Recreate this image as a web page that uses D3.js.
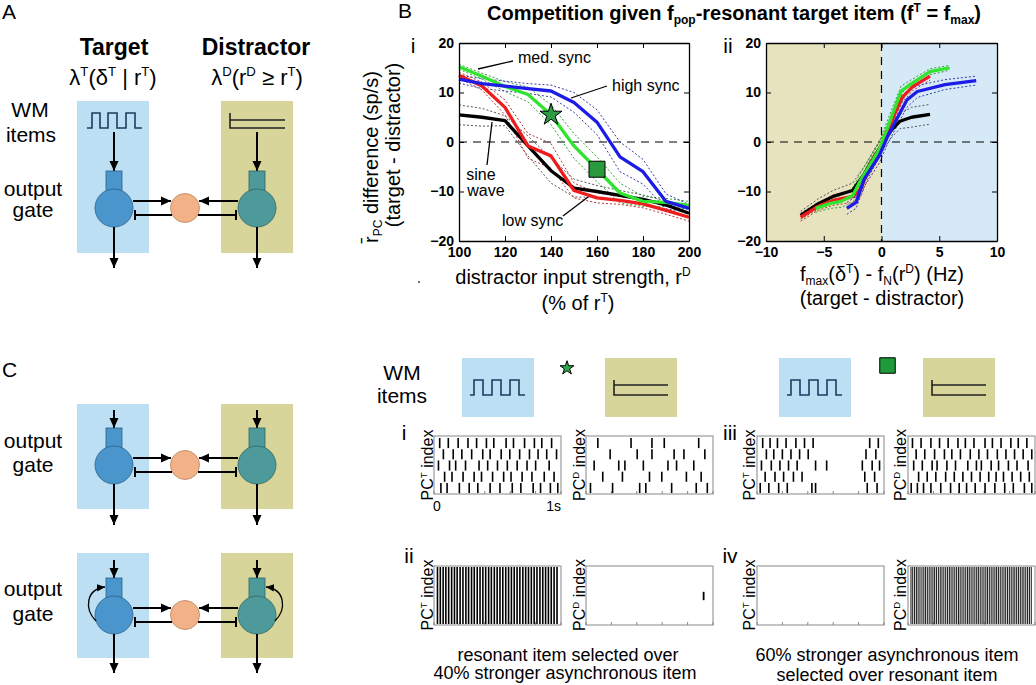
<!DOCTYPE html>
<html><head><meta charset="utf-8">
<script src="https://cdn.jsdelivr.net/npm/d3@7"></script>
<style>body{margin:0;background:#fff} svg{display:block;font-family:"Liberation Sans",Arial,Helvetica,sans-serif}</style>
</head><body><svg id="c" width="1036" height="685"></svg>
<script>
// ---------------- DATA ----------------
const rD = [100,110,120,130,140,150,160,170,180,190,200];
const sineWave = [5.5,5.0,4.3,-0.8,-5.8,-9.3,-10.0,-10.8,-11.6,-12.7,-14.4];
const lowSync  = [13.5,11.3,7.0,-0.8,-2.8,-9.8,-11.3,-11.8,-12.5,-13.8,-15.2];
const medSync  = [15.2,13.3,11.2,9.6,5.5,-0.8,-5.5,-10.3,-12.0,-12.2,-12.8];
const highSync = [12.7,11.8,11.3,10.8,10.3,8.0,4.0,-3.0,-6.0,-12.0,-13.4];
const sineErr = [2.0,1.8,1.0,2.0,2.5,1.8,1.2,1.0,0.9,0.8,0.8];
const lowErr  = [0.6,0.8,1.5,2.5,2.5,1.5,1.0,0.8,0.8,0.8,0.8];
const medErr  = [0.5,0.6,1.0,1.5,2.0,2.5,2.5,2.0,1.0,0.8,0.8];
const highErr = [0.8,1.0,1.0,1.0,1.2,2.0,2.5,3.0,2.5,1.5,0.8];
const starPoint = [140, 5.5];
const squarePoint = [160, -5.5];

const sineFreqDiff = [-7.0,-5.5,-4.2,-2.5,-1.5,-0.5,0.3,0.9,1.6,2.6,4.2];
const sineRateDiff = [-14.8,-12.5,-11.0,-9.8,-6.5,-2.5,0.5,2.5,4.2,5.0,5.6];
const sineErrII    = [0.8,1.0,1.2,1.5,1.5,1.5,1.5,1.5,1.5,2.0,2.0];
const lowFreqDiff  = [-7.0,-5.5,-4.2,-2.5,-1.8,-1.2,-0.3,0.6,1.2,1.8,2.7,4.2];
const lowRateDiff  = [-15.2,-13.0,-11.8,-11.0,-9.5,-6.0,-2.0,2.5,6.0,9.0,11.2,13.3];
const lowErrII     = [0.8,0.8,1.0,1.2,1.5,1.5,1.5,1.5,1.0,1.0,0.8,0.8];
const medFreqDiff  = [-5.7,-4.4,-3.5,-2.5,-1.8,-1.0,-0.2,0.7,1.7,2.6,4.2,5.9];
const medRateDiff  = [-13.4,-12.4,-12.0,-10.8,-7.7,-4.6,-1.5,4.0,10.3,11.8,14.2,15.0];
const medErrII     = [0.8,1.0,1.2,1.5,1.5,1.5,1.5,1.5,1.0,0.8,0.6,0.5];
const highFreqDiff = [-3.0,-2.2,-1.5,-0.2,0.5,1.4,2.2,3.1,5.5,8.2];
const highRateDiff = [-13.4,-12.2,-7.5,-2.8,1.0,5.0,8.5,10.2,11.6,12.4];
const highErrII    = [1.2,1.2,1.5,1.5,1.5,1.5,1.5,1.2,1.0,0.9];

const rateTicks = [-20,-10,0,10,20];
const strengthTicks = [100,120,140,160,180,200];
const freqTicks = [-10,-5,0,5,10];
const timeTicks = [0,0.2,0.4,0.6,0.8,1];

// raster spike times (fraction of 1 s), one list per cell row
const rasterI_T = [
 [0.03,0.10,0.18,0.26,0.33,0.41,0.47,0.57,0.63,0.72,0.80,0.86,0.94],
 [0.06,0.14,0.21,0.29,0.38,0.44,0.53,0.60,0.68,0.76,0.83,0.90,0.98],
 [0.02,0.11,0.16,0.24,0.35,0.42,0.50,0.58,0.66,0.74,0.81,0.92],
 [0.07,0.13,0.22,0.31,0.37,0.46,0.55,0.61,0.70,0.78,0.88,0.96],
 [0.04,0.09,0.19,0.27,0.34,0.44,0.52,0.62,0.69,0.79,0.85,0.93,0.99]];
const rasterI_D = [
 [0.08,0.35,0.52,0.62,0.90],
 [0.18,0.40,0.52,0.70,0.78,0.95],
 [0.05,0.25,0.30,0.45,0.65,0.72,0.86],
 [0.12,0.28,0.50,0.60,0.80,0.92],
 [0.02,0.20,0.42,0.47,0.68,0.88,0.97]];
const rasterIII_T = [
 [0.03,0.09,0.15,0.22,0.30,0.37,0.44,0.90,0.97],
 [0.06,0.12,0.19,0.26,0.33,0.40,0.87,0.95],
 [0.02,0.10,0.17,0.24,0.31,0.46,0.55,0.84,0.92,0.98],
 [0.05,0.13,0.20,0.28,0.35,0.86,0.94],
 [0.01,0.08,0.16,0.23,0.43,0.46,0.88,0.96]];
const rasterIII_D = [
 [0.02,0.09,0.17,0.24,0.31,0.39,0.45,0.52,0.61,0.67,0.74,0.82,0.88,0.95],
 [0.05,0.12,0.20,0.28,0.34,0.41,0.49,0.56,0.63,0.71,0.78,0.85,0.92,0.99],
 [0.03,0.10,0.18,0.22,0.30,0.37,0.47,0.54,0.58,0.66,0.72,0.80,0.87,0.96],
 [0.07,0.14,0.21,0.29,0.36,0.43,0.50,0.57,0.64,0.70,0.76,0.83,0.90,0.97],
 [0.01,0.06,0.11,0.17,0.25,0.33,0.40,0.46,0.53,0.61,0.69,0.77,0.84,0.93,0.99]];
const rasterII_T = [0.012,0.035,0.058,0.080,0.103,0.127,0.150,0.172,0.196,0.219,0.243,0.265,0.289,0.311,0.335,0.358,0.381,0.404,0.428,0.450,0.474,0.497,0.520,0.543,0.567,0.590,0.613,0.636,0.659,0.682,0.706,0.729,0.752,0.775,0.798,0.821,0.845,0.868,0.891,0.914,0.937,0.960,0.984];
const rasterII_D = [[0.94,2]];
const rasterIV_D = [0.008,0.022,0.037,0.052,0.066,0.081,0.097,0.112,0.126,0.141,0.156,0.171,0.186,0.200,0.215,0.231,0.246,0.260,0.275,0.290,0.305,0.320,0.334,0.349,0.364,0.379,0.394,0.408,0.423,0.438,0.453,0.468,0.482,0.497,0.512,0.527,0.542,0.556,0.571,0.586,0.601,0.616,0.630,0.645,0.660,0.675,0.690,0.704,0.719,0.734,0.749,0.764,0.778,0.793,0.808,0.823,0.838,0.852,0.867,0.882,0.897,0.912,0.926,0.941,0.956,0.971,0.986];

// ---------------- DRAWING ----------------
const svg = d3.select("#c");
svg.append("rect").attr("width",1036).attr("height",685).attr("fill","#fff");
const defs = svg.append("defs");
defs.append("marker").attr("id","ah").attr("viewBox","0 0 10 10").attr("refX",10).attr("refY",5)
  .attr("markerWidth",10).attr("markerHeight",10).attr("markerUnits","userSpaceOnUse").attr("orient","auto")
  .append("path").attr("d","M0,0.5L10,5L0,9.5Z").attr("fill","#000");
defs.append("marker").attr("id","ahs").attr("viewBox","0 0 10 10").attr("refX",10).attr("refY",5)
  .attr("markerWidth",8).attr("markerHeight",8).attr("markerUnits","userSpaceOnUse").attr("orient","auto")
  .append("path").attr("d","M0,0.5L10,5L0,9.5Z").attr("fill","#000");

function rich(parent, x, y, parts, size, opts={}) {
  const t = parent.append("text").attr("x",x).attr("y",y).attr("font-size",size)
    .attr("text-anchor",opts.anchor||"start").attr("font-weight",opts.weight||"normal").attr("fill","#000");
  if (opts.transform) t.attr("transform",opts.transform);
  let cur = 0;
  parts.forEach(p => {
    const [s,type] = Array.isArray(p) ? p : [p,""];
    const target = type==="sup" ? -0.4*size : type==="sub" ? 0.2*size : 0;
    const ts = t.append("tspan").text(s).attr("dy", target-cur);
    if (type) ts.attr("font-size", size*0.6);
    cur = target;
  });
  return t;
}
function txt(x,y,s,size,anchor="middle",weight="normal"){
  return svg.append("text").attr("x",x).attr("y",y).attr("font-size",size).attr("text-anchor",anchor).attr("font-weight",weight).text(s);
}

// ---- circuit diagrams ----
const colBlue="#bddff4", colOlive="#d7d59a";
function pulseIcon(g,x0,x1,yb,h,pulses,color){
  let d=`M${x0},${yb}`;
  pulses.forEach(([a,b])=>{ d+=`L${a},${yb}L${a},${yb-h}L${b},${yb-h}L${b},${yb}`; });
  d+=`L${x1},${yb}`;
  g.append("path").attr("d",d).attr("fill","none").attr("stroke",color).attr("stroke-width",1.6);
}
function constIcon(g,x0,x1,y1,y2,yTop,color){
  g.append("path").attr("d",`M${x0},${yTop}L${x0},${y2}L${x1},${y2}M${x0},${y1}L${x1},${y1}`)
   .attr("fill","none").attr("stroke",color).attr("stroke-width",1.6);
}
function circuit(rectTop, rectBot, somaY, inTop, outBot, recurrent){
  const g = svg.append("g");
  g.append("rect").attr("x",77).attr("y",rectTop).attr("width",72).attr("height",rectBot-rectTop).attr("fill",colBlue);
  g.append("rect").attr("x",221).attr("y",rectTop).attr("width",72).attr("height",rectBot-rectTop).attr("fill",colOlive);
  const cols = [{x:114,fill:"#4a95cb",stroke:"#2c5f88",side:-1},{x:257,fill:"#4e9a9b",stroke:"#2d6465",side:1}];
  cols.forEach(c=>{
    g.append("line").attr("x1",c.x).attr("x2",c.x).attr("y1",inTop).attr("y2",somaY-37)
      .attr("stroke","#000").attr("stroke-width",2).attr("marker-end","url(#ah)");
    g.append("rect").attr("x",c.x-8).attr("y",somaY-37).attr("width",16).attr("height",20)
      .attr("fill",c.fill).attr("stroke",c.stroke).attr("stroke-width",0.8);
    g.append("circle").attr("cx",c.x).attr("cy",somaY).attr("r",19)
      .attr("fill",c.fill).attr("stroke",c.stroke).attr("stroke-width",0.8);
    g.append("line").attr("x1",c.x).attr("x2",c.x).attr("y1",somaY+19).attr("y2",outBot)
      .attr("stroke","#000").attr("stroke-width",2).attr("marker-end","url(#ah)");
    if (recurrent){
      const s=c.side;
      g.append("path").attr("d",`M${c.x+s*18},${somaY+6} C${c.x+s*30},${somaY-6} ${c.x+s*28},${somaY-26} ${c.x+s*9},${somaY-28}`)
        .attr("fill","none").attr("stroke","#000").attr("stroke-width",1.3).attr("marker-end","url(#ahs)");
    }
  });
  g.append("circle").attr("cx",185).attr("cy",somaY).attr("r",14.5).attr("fill","#f2b186").attr("stroke","#b9835d").attr("stroke-width",0.8);
  g.append("line").attr("x1",133).attr("x2",171).attr("y1",somaY-7).attr("y2",somaY-7).attr("stroke","#000").attr("stroke-width",2).attr("marker-end","url(#ah)");
  g.append("line").attr("x1",238).attr("x2",199).attr("y1",somaY-7).attr("y2",somaY-7).attr("stroke","#000").attr("stroke-width",2).attr("marker-end","url(#ah)");
  g.append("line").attr("x1",172).attr("x2",135).attr("y1",somaY+7).attr("y2",somaY+7).attr("stroke","#000").attr("stroke-width",2);
  g.append("line").attr("x1",135).attr("x2",135).attr("y1",somaY+2).attr("y2",somaY+12).attr("stroke","#000").attr("stroke-width",2);
  g.append("line").attr("x1",198).attr("x2",236).attr("y1",somaY+7).attr("y2",somaY+7).attr("stroke","#000").attr("stroke-width",2);
  g.append("line").attr("x1",236).attr("x2",236).attr("y1",somaY+2).attr("y2",somaY+12).attr("stroke","#000").attr("stroke-width",2);
  return g;
}

// Panel A
txt(2,19,"A",21,"start");
txt(114,55,"Target",23,"middle","bold");
txt(256,55,"Distractor",23,"middle","bold");
rich(svg,113,85,["λ",["T","sup"],"(δ",["T","sup"]," | r",["T","sup"],")"],22,{anchor:"middle"});
rich(svg,257,85,["λ",["D","sup"],"(r",["D","sup"]," ≥ r",["T","sup"],")"],22,{anchor:"middle"});
txt(30,117,"WM",21); txt(31,142,"items",21);
txt(33,196,"output",21); txt(33,217,"gate",21);
const gA = circuit(101,253,208,132,268,false);
pulseIcon(gA,87,142,128,15,[[92,100],[108,117],[126,135]],"#1c3d60");
constIcon(gA,230,285,120,128,113,"#222");

// Panel C diagrams
txt(2,377,"C",21,"start");
txt(33,448,"output",21); txt(33,472,"gate",21);
txt(33,596,"output",21); txt(33,621,"gate",21);
circuit(404,509,465,410,525,false);
circuit(553,658,615,560,673,true);

// ---- Panel B ----
txt(398,18,"B",21,"start");
rich(svg,734,20,["Competition given f",["pop","sub"],"-resonant target item (f",["T","sup"]," = f",["max","sub"],")"],20,{anchor:"middle",weight:"bold"});

function boxAxes(x,y,xt,yt){
  const [x0,x1]=x.range(), [y0,y1]=y.range();
  const style = g=>{ g.selectAll("text").attr("font-size",14).attr("font-weight","bold").attr("fill","#000").attr("font-family","Liberation Sans, Arial, sans-serif");
    g.select(".domain").attr("stroke","#000").attr("stroke-width",1.3); g.selectAll(".tick line").attr("stroke","#000"); };
  svg.append("g").attr("transform",`translate(0,${y0})`).call(d3.axisBottom(x).tickValues(xt).tickSizeInner(-5).tickSizeOuter(0).tickPadding(6)).call(style);
  svg.append("g").attr("transform",`translate(0,${y1})`).call(d3.axisTop(x).tickValues(xt).tickSizeInner(-5).tickSizeOuter(0).tickFormat("")).call(style);
  svg.append("g").attr("transform",`translate(${x0},0)`).call(d3.axisLeft(y).tickValues(yt).tickSizeInner(-5).tickSizeOuter(0).tickPadding(5)).call(style);
  svg.append("g").attr("transform",`translate(${x1},0)`).call(d3.axisRight(y).tickValues(yt).tickSizeInner(-5).tickSizeOuter(0).tickFormat("")).call(style);
}
const seriesStyle = [
  {name:"sine", color:"#000000", dot:"#555555"},
  {name:"low",  color:"#ee1c1c", dot:"#b03a3a"},
  {name:"med",  color:"#2fe32f", dot:"#3a9e3a"},
  {name:"high", color:"#1c1ce6", dot:"#3a3aa6"}];

// B i
const xi = d3.scaleLinear().domain([100,200]).range([459,689]);
const yR = d3.scaleLinear().domain([-20,20]).range([241,43]);
const biSeries = [[sineWave,sineErr],[lowSync,lowErr],[medSync,medErr],[highSync,highErr]];
const gBi = svg.append("g");
gBi.append("line").attr("x1",xi(100)).attr("x2",xi(200)).attr("y1",yR(0)).attr("y2",yR(0)).attr("stroke","#000").attr("stroke-width",1.2).attr("stroke-dasharray","8,6");
const lineI = d3.line().x((d,i)=>xi(rD[i])).y(d=>yR(d));
biSeries.forEach(([vals,err],k)=>{
  [1,-1].forEach(s=>gBi.append("path").attr("d",lineI(vals.map((v,i)=>v+s*err[i]))).attr("fill","none")
    .attr("stroke",seriesStyle[k].dot).attr("stroke-width",1).attr("stroke-dasharray","2,2"));
});
biSeries.forEach(([vals],k)=>{
  gBi.append("path").attr("d",lineI(vals)).attr("fill","none").attr("stroke",seriesStyle[k].color).attr("stroke-width",3.3).attr("stroke-linejoin","round");
});
gBi.append("path").attr("d",d3.symbol(d3.symbolStar,150)()).attr("transform",`translate(${xi(starPoint[0])},${yR(starPoint[1])})`)
  .attr("fill","#2c9c45").attr("stroke","#000").attr("stroke-width",1);
gBi.append("path").attr("d",d3.symbol(d3.symbolSquare,256)()).attr("transform",`translate(${xi(squarePoint[0])},${yR(squarePoint[1])})`)
  .attr("fill","#2a9a3e").attr("stroke","#000").attr("stroke-width",1);
boxAxes(xi,yR,strengthTicks,rateTicks);
txt(413,53,"i",21);
const ann = [[513,61,478,69],[607,86,571,98],[487,165,492,122],[563,216,588,197]];
ann.forEach(a=>svg.append("line").attr("x1",a[0]).attr("y1",a[1]).attr("x2",a[2]).attr("y2",a[3]).attr("stroke","#000").attr("stroke-width",1.3));
txt(518,63,"med. sync",16,"start");
txt(612,91,"high sync",16,"start");
txt(481,180,"sine",16); txt(486,196,"wave",16);
txt(502,226,"low sync",16,"start");
rich(svg,573,284,["distractor input strength, r",["D","sup"]],20,{anchor:"middle"});
rich(svg,578,310,["(% of r",["T","sup"],")"],20,{anchor:"middle"});
svg.append("circle").attr("cx",419).attr("cy",282).attr("r",1).attr("fill","#444");
rich(svg,0,0,["r\u0304",["PC","sub"]," difference (sp/s)"],20,{anchor:"middle",transform:"translate(378,157) rotate(-90)"});
rich(svg,0,0,["(target - distractor)"],20,{anchor:"middle",transform:"translate(400,145) rotate(-90)"});

// B ii
const xii = d3.scaleLinear().domain([-10,10]).range([766,997]);
const gBii = svg.append("g");
gBii.append("rect").attr("x",xii(-10)).attr("y",yR(20)).attr("width",xii(0)-xii(-10)).attr("height",yR(-20)-yR(20)).attr("fill","#e7e3bf");
gBii.append("rect").attr("x",xii(0)).attr("y",yR(20)).attr("width",xii(10)-xii(0)).attr("height",yR(-20)-yR(20)).attr("fill","#d5e9f7");
gBii.append("line").attr("x1",xii(-10)).attr("x2",xii(10)).attr("y1",yR(0)).attr("y2",yR(0)).attr("stroke","#000").attr("stroke-width",1.2).attr("stroke-dasharray","8,6");
gBii.append("line").attr("x1",xii(0)).attr("x2",xii(0)).attr("y1",yR(20)).attr("y2",yR(-20)).attr("stroke","#000").attr("stroke-width",1.2).attr("stroke-dasharray","8,6");
const biiSeries = [[sineFreqDiff,sineRateDiff,sineErrII],[lowFreqDiff,lowRateDiff,lowErrII],[medFreqDiff,medRateDiff,medErrII],[highFreqDiff,highRateDiff,highErrII]];
biiSeries.forEach(([fx,vy,err],k)=>{
  [1,-1].forEach(s=>gBii.append("path").attr("d",d3.line()(fx.map((f,i)=>[xii(f),yR(vy[i]+s*err[i])]))).attr("fill","none")
    .attr("stroke",seriesStyle[k].dot).attr("stroke-width",1).attr("stroke-dasharray","2,2"));
});
biiSeries.forEach(([fx,vy],k)=>{
  gBii.append("path").attr("d",d3.line()(fx.map((f,i)=>[xii(f),yR(vy[i])]))).attr("fill","none")
    .attr("stroke",seriesStyle[k].color).attr("stroke-width",3.3).attr("stroke-linejoin","round");
});
boxAxes(xii,yR,freqTicks,rateTicks);
txt(728,53,"ii",21);
rich(svg,882,281,["f",["max","sub"],"(δ",["T","sup"],") - f",["N","sub"],"(r",["D","sup"],") (Hz)"],20,{anchor:"middle"});
txt(882,305,"(target - distractor)",20);

// ---- Panel C rasters ----
txt(402,380,"WM",21); txt(402,403,"items",21);
const gC = svg.append("g");
[[462,605],[779,923]].forEach(([bx,ox])=>{
  gC.append("rect").attr("x",bx).attr("y",358).attr("width",72).attr("height",59).attr("fill",colBlue);
  gC.append("rect").attr("x",ox).attr("y",358).attr("width",72).attr("height",59).attr("fill",colOlive);
  pulseIcon(gC,bx+8,bx+63,395,15,[[bx+12,bx+21],[bx+30,bx+39],[bx+48,bx+57]],"#1c3d60");
  constIcon(gC,ox+9,ox+63,385,395,380,"#222");
});
gC.append("path").attr("d",d3.symbol(d3.symbolStar,60)()).attr("transform","translate(567,368)").attr("fill","#2cab48").attr("stroke","#000").attr("stroke-width",1);
gC.append("path").attr("d",d3.symbol(d3.symbolSquare,240)()).attr("transform","translate(887.5,365.5)").attr("fill","#1e9a3a").attr("stroke","#000").attr("stroke-width",1);

function rasterBox(x0,y0,w,h){
  const xs = d3.scaleLinear().domain([0,1]).range([x0+2,x0+w-2]);
  const g = svg.append("g");
  g.append("rect").attr("x",x0).attr("y",y0).attr("width",w).attr("height",h).attr("fill","#fff").attr("stroke","#888").attr("stroke-width",1);
  timeTicks.forEach(t=>g.append("line").attr("x1",x0+t*w).attr("x2",x0+t*w).attr("y1",y0+h).attr("y2",y0+h-3).attr("stroke","#888"));
  return {g,xs};
}
function sparseRaster(x0,y0,w,h,rows){
  const {g,xs} = rasterBox(x0,y0,w,h);
  const ys = d3.scaleBand().domain(d3.range(rows.length)).range([y0+2,y0+h-1]).paddingInner(0.1);
  rows.forEach((r,ri)=>r.forEach(t=>g.append("line").attr("x1",xs(t)).attr("x2",xs(t))
    .attr("y1",ys(ri)).attr("y2",ys(ri)+ys.bandwidth()).attr("stroke","#000").attr("stroke-width",1.6)));
  return g;
}
function denseRaster(x0,y0,w,h,times,sw,col){
  const {g,xs} = rasterBox(x0,y0,w,h);
  times.forEach(t=>g.append("line").attr("x1",xs(t)).attr("x2",xs(t)).attr("y1",y0+1).attr("y2",y0+h-1)
    .attr("stroke",col).attr("stroke-width",sw));
  return g;
}
const rw=127, rh1=[436,58], rh2=[566,59];
sparseRaster(434,rh1[0],rw,rh1[1],rasterI_T);
sparseRaster(586,rh1[0],rw,rh1[1],rasterI_D);
sparseRaster(757,rh1[0],rw,rh1[1],rasterIII_T);
sparseRaster(908,rh1[0],rw,rh1[1],rasterIII_D);
denseRaster(434,rh2[0],rw,rh2[1],rasterII_T,1.6,"#000");
(function(){ const {g,xs}=rasterBox(586,rh2[0],rw,rh2[1]);
  const ys=d3.scaleBand().domain(d3.range(5)).range([rh2[0]+2,rh2[0]+rh2[1]-1]).paddingInner(0.3);
  rasterII_D.forEach(([t,r])=>g.append("line").attr("x1",xs(t)).attr("x2",xs(t)).attr("y1",ys(r)).attr("y2",ys(r)+ys.bandwidth()).attr("stroke","#000").attr("stroke-width",1.8)); })();
rasterBox(757,rh2[0],rw,rh2[1]);
denseRaster(908,rh2[0],rw,rh2[1],rasterIV_D,1.1,"#222");

txt(404,440,"i",21); txt(409,563,"ii",21); txt(730,440,"iii",21); txt(730,563,"iv",21);
[[433,465,"T"],[585,465,"D"],[755,465,"T"],[906,465,"D"],[433,595,"T"],[585,595,"D"],[755,595,"T"],[906,595,"D"]].forEach(([x,y,s])=>
  rich(svg,0,0,["PC",[s,"sup"]," index"],16,{anchor:"middle",transform:`translate(${x},${y}) rotate(-90)`}));
txt(437,511,"0",14); txt(561,511,"1s",14,"end");
txt(568,661,"resonant item selected over",18);
txt(565,679,"40% stronger asynchronous item",18);
txt(887,661,"60% stronger asynchronous item",18);
txt(887,681,"selected over resonant item",18);
</script></body></html>
